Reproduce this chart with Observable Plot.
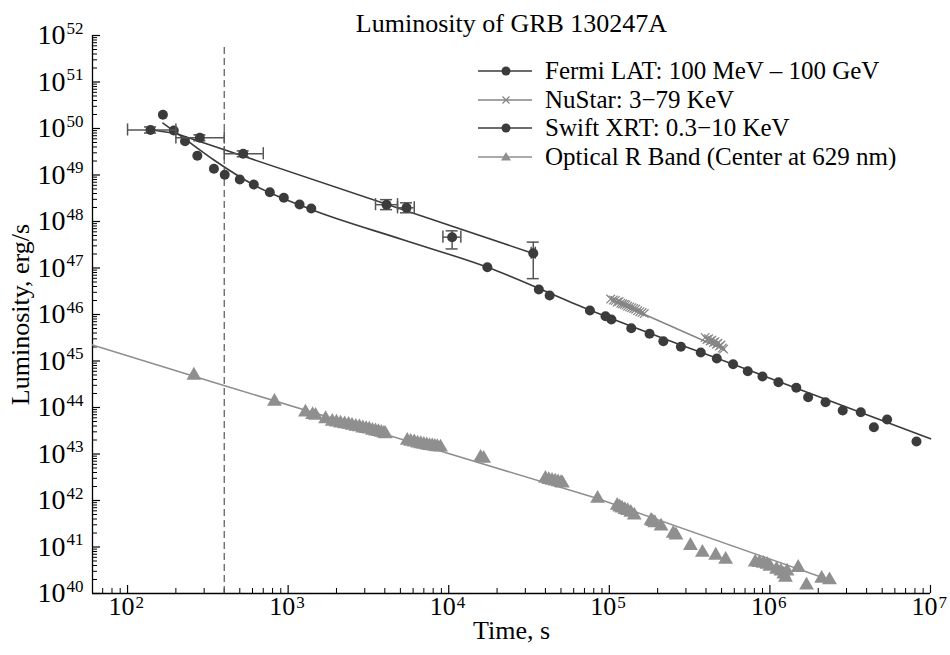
<!DOCTYPE html>
<html><head><meta charset="utf-8">
<script src="https://cdn.jsdelivr.net/npm/d3@7"></script>
<script src="https://cdn.jsdelivr.net/npm/@observablehq/plot@0.6"></script>
<style>
body{margin:0;background:#fff;}
#wrap{position:relative;width:950px;height:655px;font-family:"Liberation Serif","Times New Roman","DejaVu Serif",serif;}
#legend{position:absolute;left:476px;top:57px;font-size:25px;line-height:28.5px;color:#000;}
#legend .row{display:flex;align-items:center;height:28.5px;white-space:nowrap;}
#legend svg{margin-right:11px;}
</style></head>
<body><div id="wrap"><div id="chart"></div><div id="legend"></div></div>
<script>
const title = "Luminosity of GRB 130247A";
const xLabel = "Time, s";
const yLabel = "Luminosity, erg/s";
const xDomain = [60.5, 1e7];
const yDomain = [1e40, 1e52];
const xExponents = [2, 3, 4, 5, 6, 7];
const yExponents = [40, 41, 42, 43, 44, 45, 46, 47, 48, 49, 50, 51, 52];
const seriesNames = ["Fermi LAT: 100 MeV \u2013 100 GeV", "NuStar: 3\u221279 KeV", "Swift XRT: 0.3\u221210 KeV", "Optical R Band (Center at 629 nm)"];

// Fermi LAT points with error bars
const fermiT   = [139, 282, 525, 4100, 5460, 10500, 33600];
const fermiL   = [9.3e49, 6.3e49, 2.86e49, 2.3e48, 1.97e48, 4.6e47, 2.08e47];
const fermiTlo = [100, 200, 400, 3500, 4800, 9200, 32600];
const fermiThi = [200, 400, 700, 4800, 6100, 11900, 34600];
const fermiLlo = [8.0e49, 5.45e49, 2.47e49, 1.8e48, 1.54e48, 2.57e47, 5.9e46];
const fermiLhi = [1.08e50, 7.3e49, 3.3e49, 2.95e48, 2.52e48, 6.3e47, 3.6e47];
const fermiFitT = [139, 200, 33600];
const fermiFitL = [9.4e49, 7.8e49, 2.05e47];

// NuStar
const nuT = [1.02e5, 1.06e5, 1.09e5, 1.12e5, 1.15e5, 1.18e5, 1.21e5, 1.24e5, 1.27e5, 1.30e5, 1.34e5, 1.38e5, 1.42e5, 1.46e5, 1.50e5, 1.55e5, 1.60e5, 1.65e5,
             3.95e5, 4.05e5, 4.15e5, 4.25e5, 4.35e5, 4.45e5, 4.55e5, 4.65e5, 4.75e5, 4.85e5, 4.95e5, 5.05e5, 5.15e5];
const nuL = [2.15e46, 2.05e46, 2.0e46, 1.85e46, 1.9e46, 1.75e46, 1.7e46, 1.65e46, 1.6e46, 1.5e46, 1.45e46, 1.4e46, 1.35e46, 1.3e46, 1.2e46, 1.15e46, 1.1e46, 1.05e46,
             3.2e45, 2.9e45, 3.0e45, 2.7e45, 2.8e45, 2.5e45, 2.6e45, 2.3e45, 2.4e45, 2.1e45, 2.2e45, 1.9e45, 1.8e45];
const nuFitT = [1.02e5, 5.2e5];
const nuFitL = [2.1e46, 1.75e45];

// Swift XRT
const swiftT = [166, 194, 228, 272, 345, 403, 500, 611, 769, 940, 1178, 1393, 17400, 36400, 42500, 75700, 94700, 1.03e5, 1.37e5, 1.78e5, 2.17e5, 2.79e5, 3.71e5, 4.67e5, 5.9e5, 7.28e5, 8.99e5, 1.13e6, 1.46e6, 1.73e6, 2.22e6, 2.84e6, 3.68e6, 4.44e6, 5.37e6, 8.18e6];
const swiftL = [1.97e50, 9.06e49, 5.3e49, 2.6e49, 1.36e49, 1.01e49, 8.0e48, 6.25e48, 4.27e48, 3.24e48, 2.32e48, 1.9e48, 1.04e47, 3.45e46, 2.56e46, 1.22e46, 9.2e45, 7.8e45, 5.07e45, 3.85e45, 2.67e45, 2.02e45, 1.52e45, 1.13e45, 8.5e44, 6.0e44, 4.64e44, 3.5e44, 2.65e44, 1.66e44, 1.3e44, 8.6e43, 7.9e43, 3.77e43, 5.5e43, 1.86e43];
const swiftFitT = [166, 235, 345, 611, 1393, 5250, 17400, 68400, 9.0e5, 1.0e7];
const swiftFitL = [1.3e50, 5.5e49, 2.1e49, 6.1e48, 1.81e48, 4.0e47, 1.04e47, 1.44e46, 4.9e44, 2.12e43];

// Optical R band
const optT = [259, 822, 1282, 1420, 1482, 1711,
  1883, 2000, 2120, 2250, 2380, 2500, 2640, 2780, 2920, 3060, 3200, 3350, 3500, 3650, 3800, 3950, 4036,
  5520, 5800, 6100, 6400, 6700, 7000, 7300, 7600, 7900, 8200, 8500, 8890,
  1.58e4, 1.65e4,
  4.0e4, 4.2e4, 4.4e4, 4.6e4, 4.8e4, 5.0e4, 5.1e4,
  8.45e4,
  1.12e5, 1.16e5, 1.2e5, 1.25e5, 1.3e5, 1.36e5, 1.43e5,
  1.82e5, 1.86e5, 1.92e5, 2.1e5, 2.5e5, 2.6e5,
  3.2e5, 3.8e5, 4.6e5, 5.3e5,
  8.1e5, 8.6e5, 9.1e5, 9.6e5, 1.0e6, 1.1e6, 1.17e6, 1.22e6, 1.28e6, 1.5e6, 1.25e6, 1.69e6, 2.1e6, 2.35e6];
const optL = [4.9e44, 1.35e44, 7.9e43, 7.0e43, 6.7e43, 5.7e43,
  5.0e43, 4.8e43, 4.6e43, 4.4e43, 4.3e43, 4.1e43, 3.9e43, 3.8e43, 3.6e43, 3.5e43, 3.4e43, 3.2e43, 3.1e43, 3.0e43, 2.9e43, 2.8e43, 2.7e43,
  1.95e43, 1.85e43, 1.8e43, 1.7e43, 1.65e43, 1.6e43, 1.55e43, 1.5e43, 1.48e43, 1.45e43, 1.42e43, 1.4e43,
  8.4e42, 8.0e42,
  2.97e42, 2.8e42, 2.7e42, 2.6e42, 2.5e42, 2.4e42, 2.35e42,
  1.1e42,
  7.8e41, 7.2e41, 6.8e41, 6.3e41, 6.0e41, 5.5e41, 4.8e41,
  3.7e41, 3.5e41, 3.3e41, 2.8e41, 1.95e41, 1.8e41,
  1.07e41, 7.6e40, 6.6e40, 5.4e40,
  4.7e40, 4.6e40, 4.4e40, 4.2e40, 3.8e40, 3.3e40, 3.0e40, 2.6e40, 3.0e40, 3.6e40, 2.2e40, 1.5e40, 2.1e40, 1.95e40];
const optFitT = [60.5, 398, 5520, 8.45e4, 2.4e6];
const optFitL = [2.2e45, 2.97e44, 1.9e43, 1.1e42, 1.9e40];

const vLineT = 400;
const vLineTop = 6.1e51;

const darkC = "#3b3b3b", errC = "#555555", nuC = "#858585", optC = "#8f8f8f";

const zip = (T, L) => T.map((t, i) => ({t, L: L[i]}));
const fermi = fermiT.map((t, i) => ({t, L: fermiL[i], tlo: fermiTlo[i], thi: fermiThi[i], Llo: fermiLlo[i], Lhi: fermiLhi[i]}));
const capY = 1.35, capX = 1.09;

const xMajor = xExponents.map(e => 10 ** e);
const yMajor = yExponents.map(e => 10 ** e);
const xMinor = [], yMinor = [];
for (let e = 1; e < 7; e++) for (let k = 2; k <= 9; k++) { const v = k * 10 ** e; if (v >= xDomain[0] && v <= xDomain[1]) xMinor.push(v); }
for (let e = 40; e < 52; e++) for (let k = 2; k <= 9; k++) yMinor.push(k * 10 ** e);

const font = "'Liberation Serif', 'Times New Roman', 'DejaVu Serif', serif";

const plot = Plot.plot({
  width: 950, height: 655,
  marginLeft: 92, marginRight: 20, marginTop: 35, marginBottom: 62,
  style: {fontFamily: font, background: "#fff", color: "#000"},
  x: {type: "log", domain: xDomain, axis: null},
  y: {type: "log", domain: yDomain, axis: null},
  marks: [
    // axes lines
    Plot.ruleX([xDomain[0]], {stroke: "#000", strokeWidth: 1.3}),
    Plot.ruleY([yDomain[0]], {stroke: "#000", strokeWidth: 1.3}),
    Plot.axisX({ticks: xMajor, tickSize: -8, tickFormat: () => "", label: null, strokeWidth: 1.2}),
    Plot.axisX({ticks: xMinor, tickSize: -5, tickFormat: () => "", label: null, strokeWidth: 1}),
    Plot.axisY({ticks: yMajor, tickSize: -8, tickFormat: () => "", label: null, strokeWidth: 1.2}),
    Plot.axisY({ticks: yMinor, tickSize: -5, tickFormat: () => "", label: null, strokeWidth: 1}),
    // tick labels
    Plot.text(xMajor, {x: d => d, text: () => "10", frameAnchor: "bottom", textAnchor: "end", dx: 7, dy: 21, fontSize: 26, fill: "#000"}),
    Plot.text(xExponents, {x: d => 10 ** d, text: d => String(d), frameAnchor: "bottom", textAnchor: "start", dx: 8, dy: 14, fontSize: 17, fill: "#000"}),
    Plot.text(yMajor, {y: d => d, text: () => "10", frameAnchor: "left", textAnchor: "end", dx: -27, fontSize: 28, fill: "#000"}),
    Plot.text(yExponents, {y: d => 10 ** d, text: d => String(d), frameAnchor: "left", textAnchor: "start", dx: -26, dy: -7, fontSize: 17, fill: "#000"}),
    // labels
    Plot.text([title], {frameAnchor: "top", textAnchor: "middle", dy: -22, fontSize: 26, fill: "#000"}),
    Plot.text([xLabel], {frameAnchor: "bottom", textAnchor: "middle", dy: 45, fontSize: 26, fill: "#000"}),
    Plot.text([yLabel], {frameAnchor: "left", textAnchor: "middle", dx: -72, rotate: -90, fontSize: 26, fill: "#000"}),
    // dashed line
    Plot.ruleX([vLineT], {y1: yDomain[0], y2: vLineTop, stroke: "#555", strokeWidth: 1.2, strokeDasharray: "7,4"}),
    // optical
    Plot.line(zip(optFitT, optFitL), {x: "t", y: "L", stroke: optC, strokeWidth: 1.5}),
    Plot.dot(zip(optT, optL), {x: "t", y: "L", symbol: "triangle", r: 5.5, fill: optC, stroke: "none"}),
    // NuStar
    Plot.line(zip(nuFitT, nuFitL), {x: "t", y: "L", stroke: nuC, strokeWidth: 1.5}),
    Plot.dot(zip(nuT, nuL), {x: "t", y: "L", symbol: "times", r: 4, stroke: nuC, strokeWidth: 1.2}),
    // Swift
    Plot.line(zip(swiftFitT, swiftFitL), {x: "t", y: "L", stroke: darkC, strokeWidth: 1.6, curve: "monotone-x"}),
    Plot.dot(zip(swiftT, swiftL), {x: "t", y: "L", r: 5, fill: darkC, stroke: "none"}),
    // Fermi
    Plot.line(zip(fermiFitT, fermiFitL), {x: "t", y: "L", stroke: darkC, strokeWidth: 1.6}),
    Plot.ruleY(fermi, {y: "L", x1: "tlo", x2: "thi", stroke: errC, strokeWidth: 1.5}),
    Plot.ruleX(fermi, {x: "tlo", y1: d => d.L / capY, y2: d => d.L * capY, stroke: errC, strokeWidth: 1.5}),
    Plot.ruleX(fermi, {x: "thi", y1: d => d.L / capY, y2: d => d.L * capY, stroke: errC, strokeWidth: 1.5}),
    Plot.ruleX(fermi, {x: "t", y1: "Llo", y2: "Lhi", stroke: errC, strokeWidth: 1.5}),
    Plot.ruleY(fermi, {y: "Llo", x1: d => d.t / capX, x2: d => d.t * capX, stroke: errC, strokeWidth: 1.5}),
    Plot.ruleY(fermi, {y: "Lhi", x1: d => d.t / capX, x2: d => d.t * capX, stroke: errC, strokeWidth: 1.5}),
    Plot.dot(fermi, {x: "t", y: "L", r: 5, fill: darkC, stroke: "none"})
  ]
});
document.getElementById("chart").appendChild(plot);

// legend
const legendMarks = [
  {stroke: darkC, mark: `<circle cx="30" cy="14" r="4.5" fill="${darkC}"/>`},
  {stroke: nuC, mark: `<path d="M26.5,10.5L33.5,17.5M33.5,10.5L26.5,17.5" stroke="${nuC}" stroke-width="1.2"/>`},
  {stroke: darkC, mark: `<circle cx="30" cy="14" r="4.5" fill="${darkC}"/>`},
  {stroke: optC, mark: `<path d="M30,9L35,17.5L25,17.5Z" fill="${optC}"/>`}
];
const lg = document.getElementById("legend");
seriesNames.forEach((name, i) => {
  const row = document.createElement("div");
  row.className = "row";
  row.innerHTML = `<svg width="58" height="28"><line x1="2" y1="14" x2="56" y2="14" stroke="${legendMarks[i].stroke}" stroke-width="1.6"/>${legendMarks[i].mark}</svg><span>${name}</span>`;
  lg.appendChild(row);
});
</script></body></html>
